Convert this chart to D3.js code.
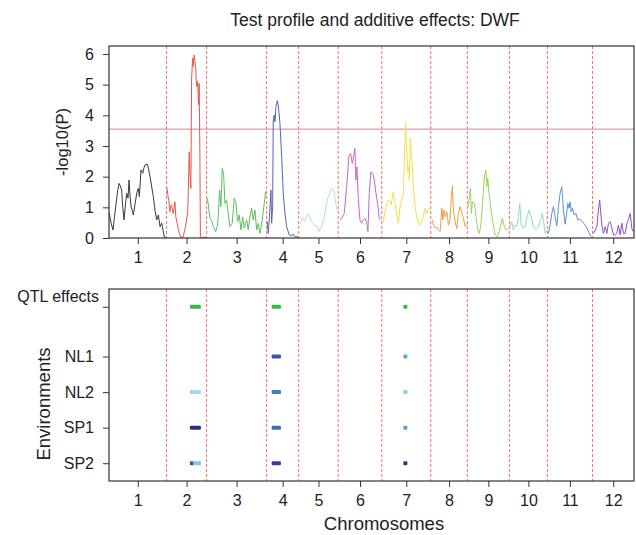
<!DOCTYPE html>
<html><head><meta charset="utf-8">
<script src="https://cdn.jsdelivr.net/npm/d3@7"></script>
<style>
body{margin:0;background:#fff}
svg{display:block;background:#fff}
text{font-family:"Liberation Sans",Arial,Helvetica,sans-serif;fill:#222}
</style>
</head><body>
<svg id="c" width="636" height="535"></svg>
<script>
// ---------------- data ----------------
const chromosomes = ["1","2","3","4","5","6","7","8","9","10","11","12"];
const chrLengths = [115, 80, 120, 64, 79, 87, 98, 73, 84, 76, 90, 83]; // cM
const chrColors = ["#3a3a3a","#e8554e","#5cbf5c","#5266b6","#a9e6dc","#cc66c8",
                   "#efe24a","#f59a40","#9bd35c","#93dcb2","#5e90cf","#8752bf"];
const lodThreshold = 3.55;
const yTicks = [0,1,2,3,4,5,6];

// LOD profiles: [position within chromosome (cM), -log10(P)]
const chr1 = [[0.5,.82],[4,.5],[8,.26],[11,.7],[13.4,1.02],[17,1.5],[20,1.78],[22.5,1.7],[25.4,1.56],[27.5,1.0],[30,.59],[33,1.1],[35.4,1.46],[38,1.3],[40,1.89],[42,1.4],[44,1.02],[46.5,.9],[48.6,.75],[52,1.1],[55.4,1.46],[58.6,1.62],[60.6,1.35],[64,2.22],[67.4,2.11],[70,2.3],[72,2.38],[76.6,2.41],[79,2.25],[82,2.0],[85,1.7],[88.6,1.35],[92,.9],[95.4,.59],[98.6,.75],[102,.37],[105.4,.49],[108,.25],[110.6,.03],[114,0]];
const chr2 = [[1.2,1.62],[3,1.35],[4.6,1.24],[6.6,.86],[8,1.0],[10,1.08],[13.2,.80],[15,.95],[16.6,1.18],[18.6,.69],[21,.5],[23.2,.32],[26,.12],[28.6,.03],[32.6,.02],[36.6,.26],[40,.59],[42,.8],[43.2,1.3],[45.2,2.81],[47,2.0],[48.6,1.62],[50,5.15],[52,5.86],[53.2,5.59],[55.2,5.97],[56.5,5.8],[58,5.59],[60,4.93],[62,5.1],[64,4.34],[65.2,5.04],[66.6,2.8],[67.6,0.02],[72.6,0.02],[79.6,0.02]];
const chr3 = [[1,1.3],[3.2,1.13],[6.6,.64],[10,.59],[13.2,.37],[18,.21],[22,.42],[24,.9],[26,1.56],[28.6,1.02],[31.2,2.27],[34,2.11],[36.6,1.13],[40,1.24],[43.2,.80],[46.6,.37],[51.2,.48],[55.2,1.29],[58.6,1.13],[62,.53],[65.2,.75],[68.6,.26],[72,.69],[75.2,.32],[80,.59],[83.2,.26],[86.6,.69],[90,.97],[93.2,.59],[96.6,.91],[100,.26],[103.2,.48],[106.6,.15],[111.2,.59],[115.2,1.13],[118,1.51]];
const chr4 = [[1.2,.53],[3.2,.15],[5.2,.59],[8.6,1.56],[10,.48],[12,1.02],[13.2,3.85],[15.2,4.01],[16.6,3.79],[18.6,4.28],[21.2,4.48],[23.2,4.34],[26.6,3.74],[30,2.65],[33.2,1.46],[36.6,.80],[40,.37],[45.2,.10],[50,.07],[53.2,.13],[56.6,.04],[63.2,.04]];
const chr5 = [[4.6,.48],[7.2,.67],[11.2,.53],[16,.72],[19.2,.80],[22.6,.64],[26,.53],[29.2,.48],[34,.37],[38,.37],[40.6,.21],[46,.37],[51.2,.69],[56,1.13],[59.2,1.35],[64.6,1.56],[68,1.62],[71.2,1.46],[74.6,1.08],[77.2,.86]];
const chr6 = [[3.4,.59],[8,.67],[12,.80],[16.8,1.67],[21.4,2.65],[24.8,2.76],[28,2.43],[30.8,2.65],[33.4,2.92],[35.4,1.89],[37.4,2.32],[40,1.35],[43.4,.59],[46.8,.48],[50,.59],[53.4,.64],[56.8,.53],[59.4,.21],[62,1.46],[65.4,2.16],[68.8,2.11],[72,1.89],[75.4,1.46],[78.8,1.13],[82,.64],[84.8,.59]];
const chr7 = [[3.2,.53],[6.6,.91],[11.2,1.18],[15.2,1.24],[18.6,1.08],[23.2,1.51],[26.6,1.13],[30,.75],[33.2,.48],[36.6,1.02],[40,1.29],[43.2,1.35],[45.2,2.65],[47.6,3.76],[50,2.87],[52,2.16],[54,2.32],[55.2,1.89],[57.2,3.25],[59.2,2.65],[61.2,2.32],[63.2,1.67],[66.6,1.02],[70,.69],[74.6,.42],[78.6,.48],[82,.64],[86.6,.97],[90,.80],[93.2,.91],[96.6,1.02]];
const chr8 = [[3.2,.6],[5.2,.42],[8.6,.32],[12,.37],[15.2,.26],[18.6,.21],[22,.97],[24,.59],[26.6,.91],[29.2,.69],[32,.86],[35.2,.42],[38.6,.64],[41.2,1.35],[43.2,1.70],[45.2,.91],[48.6,.53],[52,.30],[55.2,.80],[58.6,1.02],[62,.80],[65.2,.64],[68.6,.37],[72,.48]];
const chr9 = [[1,1.0],[3.4,1.24],[6,1.62],[8,.80],[10,1.18],[14,1.13],[17.4,.69],[20.8,.26],[24,.15],[27.4,.48],[30.8,1.24],[34,2.00],[36.8,2.22],[38.8,1.67],[40.8,1.95],[43.4,1.46],[47.4,.91],[51.4,.48],[55.4,.10],[60,.03],[64.8,.26],[70,.64],[74,.37],[77.4,.26],[80.8,.32]];
const chr10 = [[1.4,.37],[4.8,.53],[8,.26],[11.4,.42],[14.8,.37],[18,.69],[20.8,1.13],[23.4,.48],[26.8,.32],[31.4,.37],[35.4,.69],[39.4,.91],[43.4,.69],[48,.37],[52.8,.26],[58,.37],[63.4,.64],[66,.80],[68.8,.48],[71.4,.15],[74.8,.26]];
const chr11 = [[2,.15],[5.4,.42],[8.8,.80],[12,1.02],[15.4,.69],[18.8,.40],[22,1.02],[25.4,1.46],[28.8,1.67],[32,.91],[35.4,.45],[38.8,.86],[40.8,1.13],[43.4,.97],[45.4,1.18],[47.4,.86],[50,.97],[53.4,.75],[56.8,.80],[60.8,.59],[65.4,.61],[70,.53],[75.4,.42],[80.8,.26],[85.4,.10],[87.4,.04]];
const chr12 = [[2,.15],[5.4,.26],[8.8,.37],[12,.91],[14.4,1.24],[18.8,.40],[22,.15],[25.4,.37],[28.8,.15],[32,.48],[35.4,.53],[38.8,.32],[42,.10],[45.4,.10],[48.8,.15],[52,.42],[55.4,.10],[58.8,.48],[62,.15],[65.4,.15],[68.8,.48],[72,.60],[75.4,.80],[78.8,.30],[81.4,.21]];
const profiles = [chr1,chr2,chr3,chr4,chr5,chr6,chr7,chr8,chr9,chr10,chr11,chr12];

// QTL intervals
const qtlChr = [2, 4, 7];
const qtlStart = [46.6, 10, 43.2];
const qtlEnd = [68.6, 28.6, 51.2];
// additive effect intensity per environment (sub-segments along each interval)
const envNames = ["NL1","NL2","SP1","SP2"];
const effNL1 = [[], [0.8], [0.4]];
const effNL2 = [[0.05,0.05,0.05], [0.62], [0.15]];
const effSP1 = [[1.0], [0.7], [0.45]];
const effSP2 = [[0.8,0.2,0.2], [0.9], [0.96]];
const envEffects = [effNL1, effNL2, effSP1, effSP2];

// ---------------- layout ----------------
const svg = d3.select("#c");
const L = 109, R = 634;
const top1 = 46, bot1 = 238;
const top2 = 289, bot2 = 481;
const frameColor = "#333";

const offsets = [];
chrLengths.reduce((acc, l, i) => { offsets[i] = acc; return acc + l; }, 0);
const total = d3.sum(chrLengths);
const x = d3.scaleLinear().domain([0, total]).range([L, R]);
const centers = chrLengths.map((l, i) => offsets[i] + l / 2);
const bounds = offsets.slice(1);

// ---------- top panel ----------
const y1 = d3.scaleLinear().domain([0, 6.26]).range([bot1, top1]);
svg.append("defs").append("clipPath").attr("id","clip1")
  .append("rect").attr("x", L).attr("y", top1).attr("width", R - L).attr("height", bot1 - top1);

const gTop = svg.append("g");
// chromosome boundaries
gTop.selectAll("line.b").data(bounds).join("line")
  .attr("x1", d => x(d)).attr("x2", d => x(d)).attr("y1", top1).attr("y2", bot1)
  .attr("stroke", "#f07070").attr("stroke-width", 1).attr("stroke-dasharray", "3,2");
// threshold
gTop.append("line").attr("x1", L).attr("x2", R).attr("y1", y1(lodThreshold)).attr("y2", y1(lodThreshold))
  .attr("stroke", "#d98585").attr("stroke-width", 1);
// profiles
const line = d3.line().x(d => d[0]).y(d => d[1]);
const gLines = gTop.append("g").attr("clip-path", "url(#clip1)");
profiles.forEach((p, i) => {
  gLines.append("path")
    .attr("d", line(p.map(d => [x(offsets[i] + d[0]), y1(d[1])])))
    .attr("fill", "none").attr("stroke", chrColors[i]).attr("stroke-width", 1)
    .attr("stroke-linejoin", "round");
});
gTop.append("rect").attr("x", L).attr("y", top1).attr("width", R - L).attr("height", bot1 - top1)
  .attr("fill", "none").attr("stroke", frameColor).attr("stroke-width", 1.2);

const yAx1 = svg.append("g").attr("transform", `translate(${L},0)`)
  .call(d3.axisLeft(y1).tickValues(yTicks).tickSize(6).tickPadding(9).tickFormat(d3.format("d")));
const xAx1 = svg.append("g").attr("transform", `translate(0,${bot1})`)
  .call(d3.axisBottom(x).tickValues(centers).tickSize(6).tickPadding(8).tickFormat((d, i) => chromosomes[i]));

// ---------- bottom panel ----------
// row positions: environments evenly spaced, QTL-effects row separated by a larger gap
const rowVal = name => name === "QTL effects" ? envNames.length + 1.4 : envNames.length - envNames.indexOf(name);
const y2 = d3.scaleLinear().domain([0.5, envNames.length + 1.9]).range([bot2, top2]);

const gBot = svg.append("g");
gBot.selectAll("line.b").data(bounds).join("line")
  .attr("x1", d => x(d)).attr("x2", d => x(d)).attr("y1", top2).attr("y2", bot2)
  .attr("stroke", "#f07070").attr("stroke-width", 1).attr("stroke-dasharray", "3,2");

const effColor = d3.scaleLinear().domain([0, 0.45, 1]).range(["#a6e0ec", "#4fa3db", "#2b2a8c"]);
const barH = 4;
// QTL effects row (green)
qtlChr.forEach((c, k) => {
  const x0 = x(offsets[c - 1] + qtlStart[k]), x1 = x(offsets[c - 1] + qtlEnd[k]);
  gBot.append("rect").attr("x", x0).attr("y", y2(rowVal("QTL effects")) - barH / 2)
    .attr("width", x1 - x0).attr("height", barH).attr("rx", 1.2).attr("fill", "#3db54a");
});
envNames.forEach((env, e) => {
  qtlChr.forEach((c, k) => {
    const segs = envEffects[e][k];
    if (!segs.length) return;
    const s0 = offsets[c - 1] + qtlStart[k], s1 = offsets[c - 1] + qtlEnd[k];
    const w = (s1 - s0) / segs.length;
    segs.forEach((v, j) => {
      const a = x(s0 + j * w), b = x(s0 + (j + 1) * w);
      gBot.append("rect").attr("x", a).attr("y", y2(rowVal(env)) - barH / 2)
        .attr("width", b - a).attr("height", barH).attr("rx", segs.length > 1 ? 0.6 : 1.2)
        .attr("fill", effColor(v));
    });
  });
});
gBot.append("rect").attr("x", L).attr("y", top2).attr("width", R - L).attr("height", bot2 - top2)
  .attr("fill", "none").attr("stroke", frameColor).attr("stroke-width", 1.2);

const rows = ["QTL effects"].concat(envNames);
const yAx2 = svg.append("g").attr("transform", `translate(${L},0)`)
  .call(d3.axisLeft(y2).tickValues(rows.map(rowVal)).tickSize(6).tickPadding(9)
    .tickFormat((d, i) => rows[i]));
// the "QTL effects" label sits slightly above and right of its tick
yAx2.selectAll(".tick").filter((d, i) => i === 0).select("text")
  .attr("x", -10).attr("dy", "-0.32em");
const xAx2 = svg.append("g").attr("transform", `translate(0,${bot2})`)
  .call(d3.axisBottom(x).tickValues(centers).tickSize(6).tickPadding(8).tickFormat((d, i) => chromosomes[i]));

[yAx1, xAx1, yAx2, xAx2].forEach(g => {
  g.select(".domain").remove();
  g.selectAll(".tick line").attr("stroke", frameColor).attr("stroke-width", 1);
  g.selectAll(".tick text").style("font-size", "16px").attr("fill", "#222")
    .style("font-family", '"Liberation Sans",Arial,Helvetica,sans-serif');
});

// ---------- titles ----------
svg.append("text").attr("x", 375).attr("y", 26).attr("text-anchor", "middle")
  .style("font-size", "17.5px").text("Test profile and additive effects: DWF");
svg.append("text").attr("transform", `translate(68,${(top1 + bot1) / 2}) rotate(-90)`)
  .attr("text-anchor", "middle").style("font-size", "16.5px").text("-log10(P)");
svg.append("text").attr("transform", `translate(50,404) rotate(-90)`)
  .attr("text-anchor", "middle").style("font-size", "18.5px").text("Environments");
svg.append("text").attr("x", 384).attr("y", 530).attr("text-anchor", "middle")
  .style("font-size", "18.5px").text("Chromosomes");
</script>
</body></html>
